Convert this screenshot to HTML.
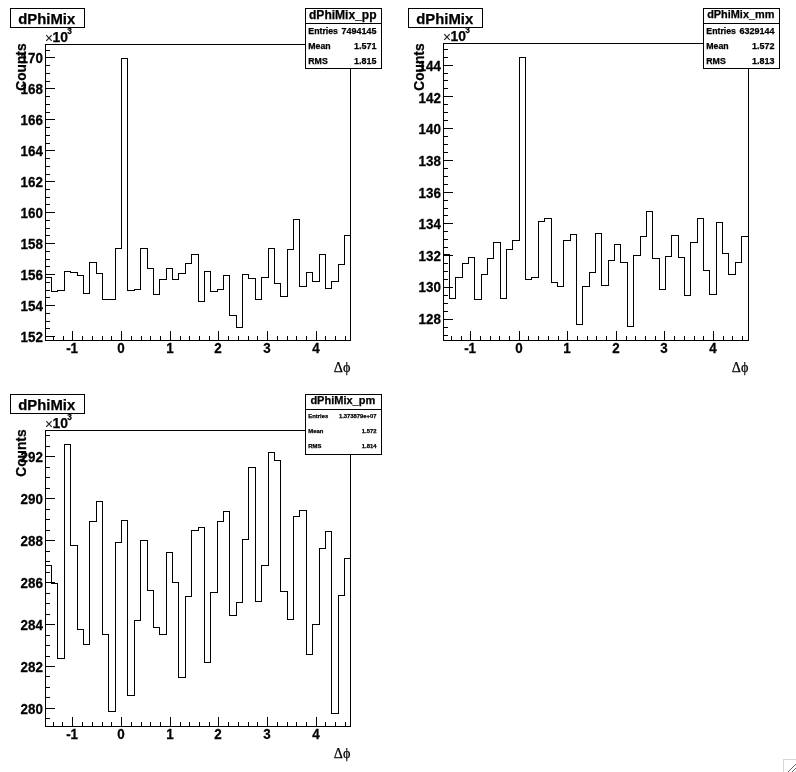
<!DOCTYPE html>
<html lang="en"><head><meta charset="utf-8"><title>dPhiMix</title>
<style>
html,body{margin:0;padding:0;background:#fff;}
body{width:796px;height:772px;overflow:hidden;}
svg{display:block;}
svg rect{shape-rendering:crispEdges;}
svg text{fill:#000;stroke:#000;stroke-width:0.25px;}
</style></head><body>
<svg width="796" height="772" viewBox="0 0 796 772">
<rect x="0" y="0" width="796" height="772" fill="#fff"/>
<rect x="45" y="44" width="306" height="1" fill="#000"/>
<rect x="45" y="340" width="306" height="1" fill="#000"/>
<rect x="45" y="44" width="1" height="297" fill="#000"/>
<rect x="350" y="44" width="1" height="297" fill="#000"/>
<rect x="45" y="277" width="7" height="1" fill="#000"/>
<rect x="51" y="291" width="7" height="1" fill="#000"/>
<rect x="51" y="277" width="1" height="15" fill="#000"/>
<rect x="57" y="290" width="8" height="1" fill="#000"/>
<rect x="57" y="290" width="1" height="2" fill="#000"/>
<rect x="64" y="271" width="7" height="1" fill="#000"/>
<rect x="64" y="271" width="1" height="20" fill="#000"/>
<rect x="70" y="272" width="8" height="1" fill="#000"/>
<rect x="70" y="271" width="1" height="2" fill="#000"/>
<rect x="77" y="275" width="7" height="1" fill="#000"/>
<rect x="77" y="272" width="1" height="4" fill="#000"/>
<rect x="83" y="293" width="7" height="1" fill="#000"/>
<rect x="83" y="275" width="1" height="19" fill="#000"/>
<rect x="89" y="262" width="8" height="1" fill="#000"/>
<rect x="89" y="262" width="1" height="32" fill="#000"/>
<rect x="96" y="273" width="7" height="1" fill="#000"/>
<rect x="96" y="262" width="1" height="12" fill="#000"/>
<rect x="102" y="299" width="7" height="1" fill="#000"/>
<rect x="102" y="273" width="1" height="27" fill="#000"/>
<rect x="108" y="299" width="8" height="1" fill="#000"/>
<rect x="108" y="299" width="1" height="1" fill="#000"/>
<rect x="115" y="248" width="7" height="1" fill="#000"/>
<rect x="115" y="248" width="1" height="52" fill="#000"/>
<rect x="121" y="58" width="7" height="1" fill="#000"/>
<rect x="121" y="58" width="1" height="191" fill="#000"/>
<rect x="127" y="290" width="8" height="1" fill="#000"/>
<rect x="127" y="58" width="1" height="233" fill="#000"/>
<rect x="134" y="289" width="7" height="1" fill="#000"/>
<rect x="134" y="289" width="1" height="2" fill="#000"/>
<rect x="140" y="248" width="8" height="1" fill="#000"/>
<rect x="140" y="248" width="1" height="42" fill="#000"/>
<rect x="147" y="268" width="7" height="1" fill="#000"/>
<rect x="147" y="248" width="1" height="21" fill="#000"/>
<rect x="153" y="294" width="7" height="1" fill="#000"/>
<rect x="153" y="268" width="1" height="27" fill="#000"/>
<rect x="159" y="279" width="8" height="1" fill="#000"/>
<rect x="159" y="279" width="1" height="16" fill="#000"/>
<rect x="166" y="268" width="7" height="1" fill="#000"/>
<rect x="166" y="268" width="1" height="12" fill="#000"/>
<rect x="172" y="279" width="7" height="1" fill="#000"/>
<rect x="172" y="268" width="1" height="12" fill="#000"/>
<rect x="178" y="273" width="8" height="1" fill="#000"/>
<rect x="178" y="273" width="1" height="7" fill="#000"/>
<rect x="185" y="263" width="7" height="1" fill="#000"/>
<rect x="185" y="263" width="1" height="11" fill="#000"/>
<rect x="191" y="254" width="8" height="1" fill="#000"/>
<rect x="191" y="254" width="1" height="10" fill="#000"/>
<rect x="198" y="301" width="7" height="1" fill="#000"/>
<rect x="198" y="254" width="1" height="48" fill="#000"/>
<rect x="204" y="271" width="7" height="1" fill="#000"/>
<rect x="204" y="271" width="1" height="31" fill="#000"/>
<rect x="210" y="291" width="8" height="1" fill="#000"/>
<rect x="210" y="271" width="1" height="21" fill="#000"/>
<rect x="217" y="289" width="7" height="1" fill="#000"/>
<rect x="217" y="289" width="1" height="3" fill="#000"/>
<rect x="223" y="275" width="7" height="1" fill="#000"/>
<rect x="223" y="275" width="1" height="15" fill="#000"/>
<rect x="229" y="315" width="8" height="1" fill="#000"/>
<rect x="229" y="275" width="1" height="41" fill="#000"/>
<rect x="236" y="327" width="7" height="1" fill="#000"/>
<rect x="236" y="315" width="1" height="13" fill="#000"/>
<rect x="242" y="274" width="7" height="1" fill="#000"/>
<rect x="242" y="274" width="1" height="54" fill="#000"/>
<rect x="248" y="278" width="8" height="1" fill="#000"/>
<rect x="248" y="274" width="1" height="5" fill="#000"/>
<rect x="255" y="299" width="7" height="1" fill="#000"/>
<rect x="255" y="278" width="1" height="22" fill="#000"/>
<rect x="261" y="277" width="8" height="1" fill="#000"/>
<rect x="261" y="277" width="1" height="23" fill="#000"/>
<rect x="268" y="248" width="7" height="1" fill="#000"/>
<rect x="268" y="248" width="1" height="30" fill="#000"/>
<rect x="274" y="283" width="7" height="1" fill="#000"/>
<rect x="274" y="248" width="1" height="36" fill="#000"/>
<rect x="280" y="296" width="8" height="1" fill="#000"/>
<rect x="280" y="283" width="1" height="14" fill="#000"/>
<rect x="287" y="249" width="7" height="1" fill="#000"/>
<rect x="287" y="249" width="1" height="48" fill="#000"/>
<rect x="293" y="219" width="7" height="1" fill="#000"/>
<rect x="293" y="219" width="1" height="31" fill="#000"/>
<rect x="299" y="286" width="8" height="1" fill="#000"/>
<rect x="299" y="219" width="1" height="68" fill="#000"/>
<rect x="306" y="272" width="7" height="1" fill="#000"/>
<rect x="306" y="272" width="1" height="15" fill="#000"/>
<rect x="312" y="281" width="8" height="1" fill="#000"/>
<rect x="312" y="272" width="1" height="10" fill="#000"/>
<rect x="319" y="254" width="7" height="1" fill="#000"/>
<rect x="319" y="254" width="1" height="28" fill="#000"/>
<rect x="325" y="288" width="7" height="1" fill="#000"/>
<rect x="325" y="254" width="1" height="35" fill="#000"/>
<rect x="331" y="281" width="8" height="1" fill="#000"/>
<rect x="331" y="281" width="1" height="8" fill="#000"/>
<rect x="338" y="264" width="7" height="1" fill="#000"/>
<rect x="338" y="264" width="1" height="18" fill="#000"/>
<rect x="344" y="235" width="7" height="1" fill="#000"/>
<rect x="344" y="235" width="1" height="30" fill="#000"/>
<rect x="46" y="57" width="9" height="1" fill="#000"/>
<rect x="46" y="88" width="9" height="1" fill="#000"/>
<rect x="46" y="119" width="9" height="1" fill="#000"/>
<rect x="46" y="150" width="9" height="1" fill="#000"/>
<rect x="46" y="181" width="9" height="1" fill="#000"/>
<rect x="46" y="212" width="9" height="1" fill="#000"/>
<rect x="46" y="243" width="9" height="1" fill="#000"/>
<rect x="46" y="274" width="9" height="1" fill="#000"/>
<rect x="46" y="305" width="9" height="1" fill="#000"/>
<rect x="46" y="336" width="9" height="1" fill="#000"/>
<rect x="46" y="50" width="4" height="1" fill="#000"/>
<rect x="46" y="65" width="4" height="1" fill="#000"/>
<rect x="46" y="73" width="4" height="1" fill="#000"/>
<rect x="46" y="81" width="4" height="1" fill="#000"/>
<rect x="46" y="96" width="4" height="1" fill="#000"/>
<rect x="46" y="104" width="4" height="1" fill="#000"/>
<rect x="46" y="112" width="4" height="1" fill="#000"/>
<rect x="46" y="127" width="4" height="1" fill="#000"/>
<rect x="46" y="135" width="4" height="1" fill="#000"/>
<rect x="46" y="143" width="4" height="1" fill="#000"/>
<rect x="46" y="158" width="4" height="1" fill="#000"/>
<rect x="46" y="166" width="4" height="1" fill="#000"/>
<rect x="46" y="174" width="4" height="1" fill="#000"/>
<rect x="46" y="189" width="4" height="1" fill="#000"/>
<rect x="46" y="197" width="4" height="1" fill="#000"/>
<rect x="46" y="204" width="4" height="1" fill="#000"/>
<rect x="46" y="220" width="4" height="1" fill="#000"/>
<rect x="46" y="228" width="4" height="1" fill="#000"/>
<rect x="46" y="235" width="4" height="1" fill="#000"/>
<rect x="46" y="251" width="4" height="1" fill="#000"/>
<rect x="46" y="259" width="4" height="1" fill="#000"/>
<rect x="46" y="266" width="4" height="1" fill="#000"/>
<rect x="46" y="282" width="4" height="1" fill="#000"/>
<rect x="46" y="290" width="4" height="1" fill="#000"/>
<rect x="46" y="297" width="4" height="1" fill="#000"/>
<rect x="46" y="313" width="4" height="1" fill="#000"/>
<rect x="46" y="321" width="4" height="1" fill="#000"/>
<rect x="46" y="328" width="4" height="1" fill="#000"/>
<rect x="53" y="336" width="1" height="4" fill="#000"/>
<rect x="63" y="336" width="1" height="4" fill="#000"/>
<rect x="72" y="331" width="1" height="9" fill="#000"/>
<text transform="translate(72.1,352.9) scale(1,1.06)" font-size="13.4" font-weight="bold" text-anchor="middle" font-family='"Liberation Sans", sans-serif' >-1</text>
<rect x="82" y="336" width="1" height="4" fill="#000"/>
<rect x="92" y="336" width="1" height="4" fill="#000"/>
<rect x="102" y="336" width="1" height="4" fill="#000"/>
<rect x="111" y="336" width="1" height="4" fill="#000"/>
<rect x="121" y="331" width="1" height="9" fill="#000"/>
<text transform="translate(121.1,352.9) scale(1,1.06)" font-size="13.4" font-weight="bold" text-anchor="middle" font-family='"Liberation Sans", sans-serif' >0</text>
<rect x="131" y="336" width="1" height="4" fill="#000"/>
<rect x="141" y="336" width="1" height="4" fill="#000"/>
<rect x="150" y="336" width="1" height="4" fill="#000"/>
<rect x="160" y="336" width="1" height="4" fill="#000"/>
<rect x="170" y="331" width="1" height="9" fill="#000"/>
<text transform="translate(170.1,352.9) scale(1,1.06)" font-size="13.4" font-weight="bold" text-anchor="middle" font-family='"Liberation Sans", sans-serif' >1</text>
<rect x="180" y="336" width="1" height="4" fill="#000"/>
<rect x="189" y="336" width="1" height="4" fill="#000"/>
<rect x="199" y="336" width="1" height="4" fill="#000"/>
<rect x="209" y="336" width="1" height="4" fill="#000"/>
<rect x="218" y="331" width="1" height="9" fill="#000"/>
<text transform="translate(218.1,352.9) scale(1,1.06)" font-size="13.4" font-weight="bold" text-anchor="middle" font-family='"Liberation Sans", sans-serif' >2</text>
<rect x="228" y="336" width="1" height="4" fill="#000"/>
<rect x="238" y="336" width="1" height="4" fill="#000"/>
<rect x="248" y="336" width="1" height="4" fill="#000"/>
<rect x="257" y="336" width="1" height="4" fill="#000"/>
<rect x="267" y="331" width="1" height="9" fill="#000"/>
<text transform="translate(267.1,352.9) scale(1,1.06)" font-size="13.4" font-weight="bold" text-anchor="middle" font-family='"Liberation Sans", sans-serif' >3</text>
<rect x="277" y="336" width="1" height="4" fill="#000"/>
<rect x="287" y="336" width="1" height="4" fill="#000"/>
<rect x="296" y="336" width="1" height="4" fill="#000"/>
<rect x="306" y="336" width="1" height="4" fill="#000"/>
<rect x="316" y="331" width="1" height="9" fill="#000"/>
<text transform="translate(316.1,352.9) scale(1,1.06)" font-size="13.4" font-weight="bold" text-anchor="middle" font-family='"Liberation Sans", sans-serif' >4</text>
<rect x="325" y="336" width="1" height="4" fill="#000"/>
<rect x="335" y="336" width="1" height="4" fill="#000"/>
<rect x="345" y="336" width="1" height="4" fill="#000"/>
<text transform="translate(42.9,62.9) scale(1,1.06)" font-size="13.4" font-weight="bold" text-anchor="end" font-family='"Liberation Sans", sans-serif' >170</text>
<text transform="translate(42.9,93.9) scale(1,1.06)" font-size="13.4" font-weight="bold" text-anchor="end" font-family='"Liberation Sans", sans-serif' >168</text>
<text transform="translate(42.9,124.9) scale(1,1.06)" font-size="13.4" font-weight="bold" text-anchor="end" font-family='"Liberation Sans", sans-serif' >166</text>
<text transform="translate(42.9,155.9) scale(1,1.06)" font-size="13.4" font-weight="bold" text-anchor="end" font-family='"Liberation Sans", sans-serif' >164</text>
<text transform="translate(42.9,186.9) scale(1,1.06)" font-size="13.4" font-weight="bold" text-anchor="end" font-family='"Liberation Sans", sans-serif' >162</text>
<text transform="translate(42.9,217.9) scale(1,1.06)" font-size="13.4" font-weight="bold" text-anchor="end" font-family='"Liberation Sans", sans-serif' >160</text>
<text transform="translate(42.9,248.9) scale(1,1.06)" font-size="13.4" font-weight="bold" text-anchor="end" font-family='"Liberation Sans", sans-serif' >158</text>
<text transform="translate(42.9,279.9) scale(1,1.06)" font-size="13.4" font-weight="bold" text-anchor="end" font-family='"Liberation Sans", sans-serif' >156</text>
<text transform="translate(42.9,310.9) scale(1,1.06)" font-size="13.4" font-weight="bold" text-anchor="end" font-family='"Liberation Sans", sans-serif' >154</text>
<text transform="translate(42.9,341.9) scale(1,1.06)" font-size="13.4" font-weight="bold" text-anchor="end" font-family='"Liberation Sans", sans-serif' >152</text>
<text x="44.9" y="43.3" font-size="14" font-weight="normal" text-anchor="start" font-family='"Liberation Serif", serif' >×</text>
<text x="52.6" y="41.8" font-size="13.9" font-weight="bold" text-anchor="start" font-family='"Liberation Sans", sans-serif' >10</text>
<text x="67.3" y="33.6" font-size="8.3" font-weight="bold" text-anchor="start" font-family='"Liberation Sans", sans-serif' >3</text>
<text transform="translate(26.3,43.5) rotate(-90) scale(1,1.08)" font-size="13.7" font-weight="bold" text-anchor="end" font-family='"Liberation Sans", sans-serif'>Counts</text>
<text x="350.4" y="371.9" font-size="14.2" font-weight="normal" text-anchor="end" font-family='"Liberation Serif", serif' stroke-width="0.1">Δϕ</text>
<rect x="10.5" y="8.5" width="74" height="19" fill="#fff" stroke="#000" stroke-width="1"/>
<text x="18.3" y="23.7" font-size="14.85" font-weight="bold" text-anchor="start" font-family='"Liberation Sans", sans-serif' >dPhiMix</text>
<rect x="305.5" y="8.5" width="76" height="60" fill="#fff" stroke="#000" stroke-width="1"/>
<rect x="305" y="23" width="77" height="1" fill="#000"/>
<text x="342.8" y="18.6" font-size="12.05" font-weight="bold" text-anchor="middle" font-family='"Liberation Sans", sans-serif' >dPhiMix_pp</text>
<text x="308.3" y="33.7" font-size="8.75" font-weight="bold" text-anchor="start" font-family='"Liberation Sans", sans-serif' >Entries</text>
<text x="376.4" y="33.7" font-size="8.97" font-weight="bold" text-anchor="end" font-family='"Liberation Sans", sans-serif' >7494145</text>
<text x="308.3" y="48.7" font-size="8.75" font-weight="bold" text-anchor="start" font-family='"Liberation Sans", sans-serif' >Mean</text>
<text x="376.4" y="48.7" font-size="8.97" font-weight="bold" text-anchor="end" font-family='"Liberation Sans", sans-serif' >1.571</text>
<text x="308.3" y="63.7" font-size="8.75" font-weight="bold" text-anchor="start" font-family='"Liberation Sans", sans-serif' >RMS</text>
<text x="376.4" y="63.7" font-size="8.97" font-weight="bold" text-anchor="end" font-family='"Liberation Sans", sans-serif' >1.815</text>
<rect x="443" y="43" width="306" height="1" fill="#000"/>
<rect x="443" y="340" width="306" height="1" fill="#000"/>
<rect x="443" y="43" width="1" height="298" fill="#000"/>
<rect x="748" y="43" width="1" height="298" fill="#000"/>
<rect x="443" y="254" width="7" height="1" fill="#000"/>
<rect x="449" y="298" width="7" height="1" fill="#000"/>
<rect x="449" y="254" width="1" height="45" fill="#000"/>
<rect x="455" y="277" width="8" height="1" fill="#000"/>
<rect x="455" y="277" width="1" height="22" fill="#000"/>
<rect x="462" y="263" width="7" height="1" fill="#000"/>
<rect x="462" y="263" width="1" height="15" fill="#000"/>
<rect x="468" y="257" width="7" height="1" fill="#000"/>
<rect x="468" y="257" width="1" height="7" fill="#000"/>
<rect x="474" y="299" width="8" height="1" fill="#000"/>
<rect x="474" y="257" width="1" height="43" fill="#000"/>
<rect x="481" y="274" width="7" height="1" fill="#000"/>
<rect x="481" y="274" width="1" height="26" fill="#000"/>
<rect x="487" y="258" width="7" height="1" fill="#000"/>
<rect x="487" y="258" width="1" height="17" fill="#000"/>
<rect x="493" y="242" width="8" height="1" fill="#000"/>
<rect x="493" y="242" width="1" height="17" fill="#000"/>
<rect x="500" y="298" width="7" height="1" fill="#000"/>
<rect x="500" y="242" width="1" height="57" fill="#000"/>
<rect x="506" y="249" width="7" height="1" fill="#000"/>
<rect x="506" y="249" width="1" height="50" fill="#000"/>
<rect x="512" y="240" width="8" height="1" fill="#000"/>
<rect x="512" y="240" width="1" height="10" fill="#000"/>
<rect x="519" y="57" width="7" height="1" fill="#000"/>
<rect x="519" y="57" width="1" height="184" fill="#000"/>
<rect x="525" y="279" width="7" height="1" fill="#000"/>
<rect x="525" y="57" width="1" height="223" fill="#000"/>
<rect x="531" y="277" width="8" height="1" fill="#000"/>
<rect x="531" y="277" width="1" height="3" fill="#000"/>
<rect x="538" y="221" width="7" height="1" fill="#000"/>
<rect x="538" y="221" width="1" height="57" fill="#000"/>
<rect x="544" y="218" width="8" height="1" fill="#000"/>
<rect x="544" y="218" width="1" height="4" fill="#000"/>
<rect x="551" y="282" width="7" height="1" fill="#000"/>
<rect x="551" y="218" width="1" height="65" fill="#000"/>
<rect x="557" y="286" width="7" height="1" fill="#000"/>
<rect x="557" y="282" width="1" height="5" fill="#000"/>
<rect x="563" y="240" width="8" height="1" fill="#000"/>
<rect x="563" y="240" width="1" height="47" fill="#000"/>
<rect x="570" y="234" width="7" height="1" fill="#000"/>
<rect x="570" y="234" width="1" height="7" fill="#000"/>
<rect x="576" y="324" width="7" height="1" fill="#000"/>
<rect x="576" y="234" width="1" height="91" fill="#000"/>
<rect x="582" y="286" width="8" height="1" fill="#000"/>
<rect x="582" y="286" width="1" height="39" fill="#000"/>
<rect x="589" y="272" width="7" height="1" fill="#000"/>
<rect x="589" y="272" width="1" height="15" fill="#000"/>
<rect x="595" y="233" width="7" height="1" fill="#000"/>
<rect x="595" y="233" width="1" height="40" fill="#000"/>
<rect x="601" y="285" width="8" height="1" fill="#000"/>
<rect x="601" y="233" width="1" height="53" fill="#000"/>
<rect x="608" y="260" width="7" height="1" fill="#000"/>
<rect x="608" y="260" width="1" height="26" fill="#000"/>
<rect x="614" y="244" width="7" height="1" fill="#000"/>
<rect x="614" y="244" width="1" height="17" fill="#000"/>
<rect x="620" y="262" width="8" height="1" fill="#000"/>
<rect x="620" y="244" width="1" height="19" fill="#000"/>
<rect x="627" y="326" width="7" height="1" fill="#000"/>
<rect x="627" y="262" width="1" height="65" fill="#000"/>
<rect x="633" y="255" width="8" height="1" fill="#000"/>
<rect x="633" y="255" width="1" height="72" fill="#000"/>
<rect x="640" y="236" width="7" height="1" fill="#000"/>
<rect x="640" y="236" width="1" height="20" fill="#000"/>
<rect x="646" y="211" width="7" height="1" fill="#000"/>
<rect x="646" y="211" width="1" height="26" fill="#000"/>
<rect x="652" y="258" width="8" height="1" fill="#000"/>
<rect x="652" y="211" width="1" height="48" fill="#000"/>
<rect x="659" y="289" width="7" height="1" fill="#000"/>
<rect x="659" y="258" width="1" height="32" fill="#000"/>
<rect x="665" y="256" width="7" height="1" fill="#000"/>
<rect x="665" y="256" width="1" height="34" fill="#000"/>
<rect x="671" y="235" width="8" height="1" fill="#000"/>
<rect x="671" y="235" width="1" height="22" fill="#000"/>
<rect x="678" y="257" width="7" height="1" fill="#000"/>
<rect x="678" y="235" width="1" height="23" fill="#000"/>
<rect x="684" y="295" width="7" height="1" fill="#000"/>
<rect x="684" y="257" width="1" height="39" fill="#000"/>
<rect x="690" y="242" width="8" height="1" fill="#000"/>
<rect x="690" y="242" width="1" height="54" fill="#000"/>
<rect x="697" y="218" width="7" height="1" fill="#000"/>
<rect x="697" y="218" width="1" height="25" fill="#000"/>
<rect x="703" y="270" width="7" height="1" fill="#000"/>
<rect x="703" y="218" width="1" height="53" fill="#000"/>
<rect x="709" y="294" width="8" height="1" fill="#000"/>
<rect x="709" y="270" width="1" height="25" fill="#000"/>
<rect x="716" y="222" width="7" height="1" fill="#000"/>
<rect x="716" y="222" width="1" height="73" fill="#000"/>
<rect x="722" y="253" width="7" height="1" fill="#000"/>
<rect x="722" y="222" width="1" height="32" fill="#000"/>
<rect x="728" y="274" width="8" height="1" fill="#000"/>
<rect x="728" y="253" width="1" height="22" fill="#000"/>
<rect x="735" y="262" width="7" height="1" fill="#000"/>
<rect x="735" y="262" width="1" height="13" fill="#000"/>
<rect x="741" y="236" width="8" height="1" fill="#000"/>
<rect x="741" y="236" width="1" height="27" fill="#000"/>
<rect x="444" y="65" width="9" height="1" fill="#000"/>
<rect x="444" y="96" width="9" height="1" fill="#000"/>
<rect x="444" y="128" width="9" height="1" fill="#000"/>
<rect x="444" y="160" width="9" height="1" fill="#000"/>
<rect x="444" y="192" width="9" height="1" fill="#000"/>
<rect x="444" y="223" width="9" height="1" fill="#000"/>
<rect x="444" y="255" width="9" height="1" fill="#000"/>
<rect x="444" y="287" width="9" height="1" fill="#000"/>
<rect x="444" y="319" width="9" height="1" fill="#000"/>
<rect x="444" y="49" width="4" height="1" fill="#000"/>
<rect x="444" y="57" width="4" height="1" fill="#000"/>
<rect x="444" y="73" width="4" height="1" fill="#000"/>
<rect x="444" y="80" width="4" height="1" fill="#000"/>
<rect x="444" y="88" width="4" height="1" fill="#000"/>
<rect x="444" y="104" width="4" height="1" fill="#000"/>
<rect x="444" y="112" width="4" height="1" fill="#000"/>
<rect x="444" y="120" width="4" height="1" fill="#000"/>
<rect x="444" y="136" width="4" height="1" fill="#000"/>
<rect x="444" y="144" width="4" height="1" fill="#000"/>
<rect x="444" y="152" width="4" height="1" fill="#000"/>
<rect x="444" y="168" width="4" height="1" fill="#000"/>
<rect x="444" y="176" width="4" height="1" fill="#000"/>
<rect x="444" y="184" width="4" height="1" fill="#000"/>
<rect x="444" y="200" width="4" height="1" fill="#000"/>
<rect x="444" y="208" width="4" height="1" fill="#000"/>
<rect x="444" y="215" width="4" height="1" fill="#000"/>
<rect x="444" y="231" width="4" height="1" fill="#000"/>
<rect x="444" y="239" width="4" height="1" fill="#000"/>
<rect x="444" y="247" width="4" height="1" fill="#000"/>
<rect x="444" y="263" width="4" height="1" fill="#000"/>
<rect x="444" y="271" width="4" height="1" fill="#000"/>
<rect x="444" y="279" width="4" height="1" fill="#000"/>
<rect x="444" y="295" width="4" height="1" fill="#000"/>
<rect x="444" y="303" width="4" height="1" fill="#000"/>
<rect x="444" y="311" width="4" height="1" fill="#000"/>
<rect x="444" y="327" width="4" height="1" fill="#000"/>
<rect x="444" y="335" width="4" height="1" fill="#000"/>
<rect x="451" y="336" width="1" height="4" fill="#000"/>
<rect x="461" y="336" width="1" height="4" fill="#000"/>
<rect x="470" y="331" width="1" height="9" fill="#000"/>
<text transform="translate(470.1,352.9) scale(1,1.06)" font-size="13.4" font-weight="bold" text-anchor="middle" font-family='"Liberation Sans", sans-serif' >-1</text>
<rect x="480" y="336" width="1" height="4" fill="#000"/>
<rect x="490" y="336" width="1" height="4" fill="#000"/>
<rect x="499" y="336" width="1" height="4" fill="#000"/>
<rect x="509" y="336" width="1" height="4" fill="#000"/>
<rect x="519" y="331" width="1" height="9" fill="#000"/>
<text transform="translate(519.1,352.9) scale(1,1.06)" font-size="13.4" font-weight="bold" text-anchor="middle" font-family='"Liberation Sans", sans-serif' >0</text>
<rect x="528" y="336" width="1" height="4" fill="#000"/>
<rect x="538" y="336" width="1" height="4" fill="#000"/>
<rect x="548" y="336" width="1" height="4" fill="#000"/>
<rect x="558" y="336" width="1" height="4" fill="#000"/>
<rect x="567" y="331" width="1" height="9" fill="#000"/>
<text transform="translate(567.1,352.9) scale(1,1.06)" font-size="13.4" font-weight="bold" text-anchor="middle" font-family='"Liberation Sans", sans-serif' >1</text>
<rect x="577" y="336" width="1" height="4" fill="#000"/>
<rect x="587" y="336" width="1" height="4" fill="#000"/>
<rect x="596" y="336" width="1" height="4" fill="#000"/>
<rect x="606" y="336" width="1" height="4" fill="#000"/>
<rect x="616" y="331" width="1" height="9" fill="#000"/>
<text transform="translate(616.1,352.9) scale(1,1.06)" font-size="13.4" font-weight="bold" text-anchor="middle" font-family='"Liberation Sans", sans-serif' >2</text>
<rect x="626" y="336" width="1" height="4" fill="#000"/>
<rect x="635" y="336" width="1" height="4" fill="#000"/>
<rect x="645" y="336" width="1" height="4" fill="#000"/>
<rect x="655" y="336" width="1" height="4" fill="#000"/>
<rect x="664" y="331" width="1" height="9" fill="#000"/>
<text transform="translate(664.1,352.9) scale(1,1.06)" font-size="13.4" font-weight="bold" text-anchor="middle" font-family='"Liberation Sans", sans-serif' >3</text>
<rect x="674" y="336" width="1" height="4" fill="#000"/>
<rect x="684" y="336" width="1" height="4" fill="#000"/>
<rect x="694" y="336" width="1" height="4" fill="#000"/>
<rect x="703" y="336" width="1" height="4" fill="#000"/>
<rect x="713" y="331" width="1" height="9" fill="#000"/>
<text transform="translate(713.1,352.9) scale(1,1.06)" font-size="13.4" font-weight="bold" text-anchor="middle" font-family='"Liberation Sans", sans-serif' >4</text>
<rect x="723" y="336" width="1" height="4" fill="#000"/>
<rect x="732" y="336" width="1" height="4" fill="#000"/>
<rect x="742" y="336" width="1" height="4" fill="#000"/>
<text transform="translate(440.9,71.2) scale(1,1.06)" font-size="13.4" font-weight="bold" text-anchor="end" font-family='"Liberation Sans", sans-serif' >144</text>
<text transform="translate(440.9,102.8) scale(1,1.06)" font-size="13.4" font-weight="bold" text-anchor="end" font-family='"Liberation Sans", sans-serif' >142</text>
<text transform="translate(440.9,134.4) scale(1,1.06)" font-size="13.4" font-weight="bold" text-anchor="end" font-family='"Liberation Sans", sans-serif' >140</text>
<text transform="translate(440.9,165.9) scale(1,1.06)" font-size="13.4" font-weight="bold" text-anchor="end" font-family='"Liberation Sans", sans-serif' >138</text>
<text transform="translate(440.9,197.5) scale(1,1.06)" font-size="13.4" font-weight="bold" text-anchor="end" font-family='"Liberation Sans", sans-serif' >136</text>
<text transform="translate(440.9,229.1) scale(1,1.06)" font-size="13.4" font-weight="bold" text-anchor="end" font-family='"Liberation Sans", sans-serif' >134</text>
<text transform="translate(440.9,260.7) scale(1,1.06)" font-size="13.4" font-weight="bold" text-anchor="end" font-family='"Liberation Sans", sans-serif' >132</text>
<text transform="translate(440.9,292.3) scale(1,1.06)" font-size="13.4" font-weight="bold" text-anchor="end" font-family='"Liberation Sans", sans-serif' >130</text>
<text transform="translate(440.9,323.8) scale(1,1.06)" font-size="13.4" font-weight="bold" text-anchor="end" font-family='"Liberation Sans", sans-serif' >128</text>
<text x="442.9" y="42.3" font-size="14" font-weight="normal" text-anchor="start" font-family='"Liberation Serif", serif' >×</text>
<text x="450.6" y="41.3" font-size="13.9" font-weight="bold" text-anchor="start" font-family='"Liberation Sans", sans-serif' >10</text>
<text x="465.3" y="32.6" font-size="8.3" font-weight="bold" text-anchor="start" font-family='"Liberation Sans", sans-serif' >3</text>
<text transform="translate(424.3,43.5) rotate(-90) scale(1,1.08)" font-size="13.7" font-weight="bold" text-anchor="end" font-family='"Liberation Sans", sans-serif'>Counts</text>
<text x="748.4" y="371.9" font-size="14.2" font-weight="normal" text-anchor="end" font-family='"Liberation Serif", serif' stroke-width="0.1">Δϕ</text>
<rect x="408.5" y="8.5" width="74" height="19" fill="#fff" stroke="#000" stroke-width="1"/>
<text x="416.3" y="23.7" font-size="14.85" font-weight="bold" text-anchor="start" font-family='"Liberation Sans", sans-serif' >dPhiMix</text>
<rect x="703.5" y="8.5" width="76" height="60" fill="#fff" stroke="#000" stroke-width="1"/>
<rect x="703" y="23" width="77" height="1" fill="#000"/>
<text x="740.8" y="18.0" font-size="10.9" font-weight="bold" text-anchor="middle" font-family='"Liberation Sans", sans-serif' >dPhiMix_mm</text>
<text x="706.3" y="33.7" font-size="8.75" font-weight="bold" text-anchor="start" font-family='"Liberation Sans", sans-serif' >Entries</text>
<text x="774.4" y="33.7" font-size="8.97" font-weight="bold" text-anchor="end" font-family='"Liberation Sans", sans-serif' >6329144</text>
<text x="706.3" y="48.7" font-size="8.75" font-weight="bold" text-anchor="start" font-family='"Liberation Sans", sans-serif' >Mean</text>
<text x="774.4" y="48.7" font-size="8.97" font-weight="bold" text-anchor="end" font-family='"Liberation Sans", sans-serif' >1.572</text>
<text x="706.3" y="63.7" font-size="8.75" font-weight="bold" text-anchor="start" font-family='"Liberation Sans", sans-serif' >RMS</text>
<text x="774.4" y="63.7" font-size="8.97" font-weight="bold" text-anchor="end" font-family='"Liberation Sans", sans-serif' >1.813</text>
<rect x="45" y="430" width="306" height="1" fill="#000"/>
<rect x="45" y="726" width="306" height="1" fill="#000"/>
<rect x="45" y="430" width="1" height="297" fill="#000"/>
<rect x="350" y="430" width="1" height="297" fill="#000"/>
<rect x="45" y="565" width="7" height="1" fill="#000"/>
<rect x="51" y="583" width="7" height="1" fill="#000"/>
<rect x="51" y="565" width="1" height="19" fill="#000"/>
<rect x="57" y="658" width="8" height="1" fill="#000"/>
<rect x="57" y="583" width="1" height="76" fill="#000"/>
<rect x="64" y="444" width="7" height="1" fill="#000"/>
<rect x="64" y="444" width="1" height="215" fill="#000"/>
<rect x="70" y="545" width="8" height="1" fill="#000"/>
<rect x="70" y="444" width="1" height="102" fill="#000"/>
<rect x="77" y="629" width="7" height="1" fill="#000"/>
<rect x="77" y="545" width="1" height="85" fill="#000"/>
<rect x="83" y="644" width="7" height="1" fill="#000"/>
<rect x="83" y="629" width="1" height="16" fill="#000"/>
<rect x="89" y="521" width="8" height="1" fill="#000"/>
<rect x="89" y="521" width="1" height="124" fill="#000"/>
<rect x="96" y="501" width="7" height="1" fill="#000"/>
<rect x="96" y="501" width="1" height="21" fill="#000"/>
<rect x="102" y="634" width="7" height="1" fill="#000"/>
<rect x="102" y="501" width="1" height="134" fill="#000"/>
<rect x="108" y="711" width="8" height="1" fill="#000"/>
<rect x="108" y="634" width="1" height="78" fill="#000"/>
<rect x="115" y="542" width="7" height="1" fill="#000"/>
<rect x="115" y="542" width="1" height="170" fill="#000"/>
<rect x="121" y="520" width="7" height="1" fill="#000"/>
<rect x="121" y="520" width="1" height="23" fill="#000"/>
<rect x="127" y="695" width="8" height="1" fill="#000"/>
<rect x="127" y="520" width="1" height="176" fill="#000"/>
<rect x="134" y="620" width="7" height="1" fill="#000"/>
<rect x="134" y="620" width="1" height="76" fill="#000"/>
<rect x="140" y="540" width="8" height="1" fill="#000"/>
<rect x="140" y="540" width="1" height="81" fill="#000"/>
<rect x="147" y="590" width="7" height="1" fill="#000"/>
<rect x="147" y="540" width="1" height="51" fill="#000"/>
<rect x="153" y="627" width="7" height="1" fill="#000"/>
<rect x="153" y="590" width="1" height="38" fill="#000"/>
<rect x="159" y="634" width="8" height="1" fill="#000"/>
<rect x="159" y="627" width="1" height="8" fill="#000"/>
<rect x="166" y="552" width="7" height="1" fill="#000"/>
<rect x="166" y="552" width="1" height="83" fill="#000"/>
<rect x="172" y="582" width="7" height="1" fill="#000"/>
<rect x="172" y="552" width="1" height="31" fill="#000"/>
<rect x="178" y="677" width="8" height="1" fill="#000"/>
<rect x="178" y="582" width="1" height="96" fill="#000"/>
<rect x="185" y="596" width="7" height="1" fill="#000"/>
<rect x="185" y="596" width="1" height="82" fill="#000"/>
<rect x="191" y="530" width="8" height="1" fill="#000"/>
<rect x="191" y="530" width="1" height="67" fill="#000"/>
<rect x="198" y="527" width="7" height="1" fill="#000"/>
<rect x="198" y="527" width="1" height="4" fill="#000"/>
<rect x="204" y="662" width="7" height="1" fill="#000"/>
<rect x="204" y="527" width="1" height="136" fill="#000"/>
<rect x="210" y="592" width="8" height="1" fill="#000"/>
<rect x="210" y="592" width="1" height="71" fill="#000"/>
<rect x="217" y="521" width="7" height="1" fill="#000"/>
<rect x="217" y="521" width="1" height="72" fill="#000"/>
<rect x="223" y="511" width="7" height="1" fill="#000"/>
<rect x="223" y="511" width="1" height="11" fill="#000"/>
<rect x="229" y="615" width="8" height="1" fill="#000"/>
<rect x="229" y="511" width="1" height="105" fill="#000"/>
<rect x="236" y="602" width="7" height="1" fill="#000"/>
<rect x="236" y="602" width="1" height="14" fill="#000"/>
<rect x="242" y="539" width="7" height="1" fill="#000"/>
<rect x="242" y="539" width="1" height="64" fill="#000"/>
<rect x="248" y="467" width="8" height="1" fill="#000"/>
<rect x="248" y="467" width="1" height="73" fill="#000"/>
<rect x="255" y="601" width="7" height="1" fill="#000"/>
<rect x="255" y="467" width="1" height="135" fill="#000"/>
<rect x="261" y="565" width="8" height="1" fill="#000"/>
<rect x="261" y="565" width="1" height="37" fill="#000"/>
<rect x="268" y="452" width="7" height="1" fill="#000"/>
<rect x="268" y="452" width="1" height="114" fill="#000"/>
<rect x="274" y="460" width="7" height="1" fill="#000"/>
<rect x="274" y="452" width="1" height="9" fill="#000"/>
<rect x="280" y="591" width="8" height="1" fill="#000"/>
<rect x="280" y="460" width="1" height="132" fill="#000"/>
<rect x="287" y="619" width="7" height="1" fill="#000"/>
<rect x="287" y="591" width="1" height="29" fill="#000"/>
<rect x="293" y="516" width="7" height="1" fill="#000"/>
<rect x="293" y="516" width="1" height="104" fill="#000"/>
<rect x="299" y="510" width="8" height="1" fill="#000"/>
<rect x="299" y="510" width="1" height="7" fill="#000"/>
<rect x="306" y="654" width="7" height="1" fill="#000"/>
<rect x="306" y="510" width="1" height="145" fill="#000"/>
<rect x="312" y="624" width="8" height="1" fill="#000"/>
<rect x="312" y="624" width="1" height="31" fill="#000"/>
<rect x="319" y="548" width="7" height="1" fill="#000"/>
<rect x="319" y="548" width="1" height="77" fill="#000"/>
<rect x="325" y="531" width="7" height="1" fill="#000"/>
<rect x="325" y="531" width="1" height="18" fill="#000"/>
<rect x="331" y="713" width="8" height="1" fill="#000"/>
<rect x="331" y="531" width="1" height="183" fill="#000"/>
<rect x="338" y="595" width="7" height="1" fill="#000"/>
<rect x="338" y="595" width="1" height="119" fill="#000"/>
<rect x="344" y="558" width="7" height="1" fill="#000"/>
<rect x="344" y="558" width="1" height="38" fill="#000"/>
<rect x="46" y="456" width="9" height="1" fill="#000"/>
<rect x="46" y="498" width="9" height="1" fill="#000"/>
<rect x="46" y="540" width="9" height="1" fill="#000"/>
<rect x="46" y="582" width="9" height="1" fill="#000"/>
<rect x="46" y="624" width="9" height="1" fill="#000"/>
<rect x="46" y="666" width="9" height="1" fill="#000"/>
<rect x="46" y="708" width="9" height="1" fill="#000"/>
<rect x="46" y="435" width="4" height="1" fill="#000"/>
<rect x="46" y="446" width="4" height="1" fill="#000"/>
<rect x="46" y="467" width="4" height="1" fill="#000"/>
<rect x="46" y="477" width="4" height="1" fill="#000"/>
<rect x="46" y="488" width="4" height="1" fill="#000"/>
<rect x="46" y="509" width="4" height="1" fill="#000"/>
<rect x="46" y="519" width="4" height="1" fill="#000"/>
<rect x="46" y="530" width="4" height="1" fill="#000"/>
<rect x="46" y="551" width="4" height="1" fill="#000"/>
<rect x="46" y="561" width="4" height="1" fill="#000"/>
<rect x="46" y="572" width="4" height="1" fill="#000"/>
<rect x="46" y="593" width="4" height="1" fill="#000"/>
<rect x="46" y="603" width="4" height="1" fill="#000"/>
<rect x="46" y="614" width="4" height="1" fill="#000"/>
<rect x="46" y="635" width="4" height="1" fill="#000"/>
<rect x="46" y="645" width="4" height="1" fill="#000"/>
<rect x="46" y="656" width="4" height="1" fill="#000"/>
<rect x="46" y="676" width="4" height="1" fill="#000"/>
<rect x="46" y="687" width="4" height="1" fill="#000"/>
<rect x="46" y="697" width="4" height="1" fill="#000"/>
<rect x="46" y="718" width="4" height="1" fill="#000"/>
<rect x="53" y="722" width="1" height="4" fill="#000"/>
<rect x="62" y="722" width="1" height="4" fill="#000"/>
<rect x="72" y="717" width="1" height="9" fill="#000"/>
<text transform="translate(72.1,738.9) scale(1,1.06)" font-size="13.4" font-weight="bold" text-anchor="middle" font-family='"Liberation Sans", sans-serif' >-1</text>
<rect x="82" y="722" width="1" height="4" fill="#000"/>
<rect x="92" y="722" width="1" height="4" fill="#000"/>
<rect x="102" y="722" width="1" height="4" fill="#000"/>
<rect x="111" y="722" width="1" height="4" fill="#000"/>
<rect x="121" y="717" width="1" height="9" fill="#000"/>
<text transform="translate(121.1,738.9) scale(1,1.06)" font-size="13.4" font-weight="bold" text-anchor="middle" font-family='"Liberation Sans", sans-serif' >0</text>
<rect x="131" y="722" width="1" height="4" fill="#000"/>
<rect x="141" y="722" width="1" height="4" fill="#000"/>
<rect x="150" y="722" width="1" height="4" fill="#000"/>
<rect x="160" y="722" width="1" height="4" fill="#000"/>
<rect x="170" y="717" width="1" height="9" fill="#000"/>
<text transform="translate(170.1,738.9) scale(1,1.06)" font-size="13.4" font-weight="bold" text-anchor="middle" font-family='"Liberation Sans", sans-serif' >1</text>
<rect x="180" y="722" width="1" height="4" fill="#000"/>
<rect x="189" y="722" width="1" height="4" fill="#000"/>
<rect x="199" y="722" width="1" height="4" fill="#000"/>
<rect x="209" y="722" width="1" height="4" fill="#000"/>
<rect x="218" y="717" width="1" height="9" fill="#000"/>
<text transform="translate(218.1,738.9) scale(1,1.06)" font-size="13.4" font-weight="bold" text-anchor="middle" font-family='"Liberation Sans", sans-serif' >2</text>
<rect x="228" y="722" width="1" height="4" fill="#000"/>
<rect x="238" y="722" width="1" height="4" fill="#000"/>
<rect x="248" y="722" width="1" height="4" fill="#000"/>
<rect x="257" y="722" width="1" height="4" fill="#000"/>
<rect x="267" y="717" width="1" height="9" fill="#000"/>
<text transform="translate(267.1,738.9) scale(1,1.06)" font-size="13.4" font-weight="bold" text-anchor="middle" font-family='"Liberation Sans", sans-serif' >3</text>
<rect x="277" y="722" width="1" height="4" fill="#000"/>
<rect x="287" y="722" width="1" height="4" fill="#000"/>
<rect x="296" y="722" width="1" height="4" fill="#000"/>
<rect x="306" y="722" width="1" height="4" fill="#000"/>
<rect x="316" y="717" width="1" height="9" fill="#000"/>
<text transform="translate(316.1,738.9) scale(1,1.06)" font-size="13.4" font-weight="bold" text-anchor="middle" font-family='"Liberation Sans", sans-serif' >4</text>
<rect x="325" y="722" width="1" height="4" fill="#000"/>
<rect x="335" y="722" width="1" height="4" fill="#000"/>
<rect x="345" y="722" width="1" height="4" fill="#000"/>
<text transform="translate(42.9,461.9) scale(1,1.06)" font-size="13.4" font-weight="bold" text-anchor="end" font-family='"Liberation Sans", sans-serif' >292</text>
<text transform="translate(42.9,503.9) scale(1,1.06)" font-size="13.4" font-weight="bold" text-anchor="end" font-family='"Liberation Sans", sans-serif' >290</text>
<text transform="translate(42.9,545.9) scale(1,1.06)" font-size="13.4" font-weight="bold" text-anchor="end" font-family='"Liberation Sans", sans-serif' >288</text>
<text transform="translate(42.9,587.9) scale(1,1.06)" font-size="13.4" font-weight="bold" text-anchor="end" font-family='"Liberation Sans", sans-serif' >286</text>
<text transform="translate(42.9,629.9) scale(1,1.06)" font-size="13.4" font-weight="bold" text-anchor="end" font-family='"Liberation Sans", sans-serif' >284</text>
<text transform="translate(42.9,671.9) scale(1,1.06)" font-size="13.4" font-weight="bold" text-anchor="end" font-family='"Liberation Sans", sans-serif' >282</text>
<text transform="translate(42.9,713.9) scale(1,1.06)" font-size="13.4" font-weight="bold" text-anchor="end" font-family='"Liberation Sans", sans-serif' >280</text>
<text x="44.9" y="429.3" font-size="14" font-weight="normal" text-anchor="start" font-family='"Liberation Serif", serif' >×</text>
<text x="52.6" y="427.8" font-size="13.9" font-weight="bold" text-anchor="start" font-family='"Liberation Sans", sans-serif' >10</text>
<text x="67.3" y="419.6" font-size="8.3" font-weight="bold" text-anchor="start" font-family='"Liberation Sans", sans-serif' >3</text>
<text transform="translate(26.3,429.5) rotate(-90) scale(1,1.08)" font-size="13.7" font-weight="bold" text-anchor="end" font-family='"Liberation Sans", sans-serif'>Counts</text>
<text x="350.4" y="757.9" font-size="14.2" font-weight="normal" text-anchor="end" font-family='"Liberation Serif", serif' stroke-width="0.1">Δϕ</text>
<rect x="10.5" y="394.5" width="74" height="19" fill="#fff" stroke="#000" stroke-width="1"/>
<text x="18.3" y="409.7" font-size="14.85" font-weight="bold" text-anchor="start" font-family='"Liberation Sans", sans-serif' >dPhiMix</text>
<rect x="305.5" y="394.5" width="76" height="60" fill="#fff" stroke="#000" stroke-width="1"/>
<rect x="305" y="409" width="77" height="1" fill="#000"/>
<text x="342.8" y="403.8" font-size="11.0" font-weight="bold" text-anchor="middle" font-family='"Liberation Sans", sans-serif' >dPhiMix_pm</text>
<text x="308.3" y="417.6" font-size="5.9" font-weight="bold" text-anchor="start" font-family='"Liberation Sans", sans-serif' >Entries</text>
<text x="376.4" y="417.6" font-size="5.84" font-weight="bold" text-anchor="end" font-family='"Liberation Sans", sans-serif' >1.373879e+07</text>
<text x="308.3" y="432.6" font-size="5.9" font-weight="bold" text-anchor="start" font-family='"Liberation Sans", sans-serif' >Mean</text>
<text x="376.4" y="432.6" font-size="5.84" font-weight="bold" text-anchor="end" font-family='"Liberation Sans", sans-serif' >1.572</text>
<text x="308.3" y="447.6" font-size="5.9" font-weight="bold" text-anchor="start" font-family='"Liberation Sans", sans-serif' >RMS</text>
<text x="376.4" y="447.6" font-size="5.84" font-weight="bold" text-anchor="end" font-family='"Liberation Sans", sans-serif' >1.814</text>
<rect x="783.5" y="759.5" width="14" height="14" fill="#fff" stroke="#d6d6d6" stroke-width="1"/>
<g stroke="#6a6a6a" stroke-width="1" shape-rendering="auto"><line x1="788" y1="772" x2="796" y2="764"/><line x1="792" y1="772" x2="796" y2="768"/><line x1="795" y1="772.5" x2="796.5" y2="771" stroke="#b0b0b0"/></g>
</svg>
</body></html>
